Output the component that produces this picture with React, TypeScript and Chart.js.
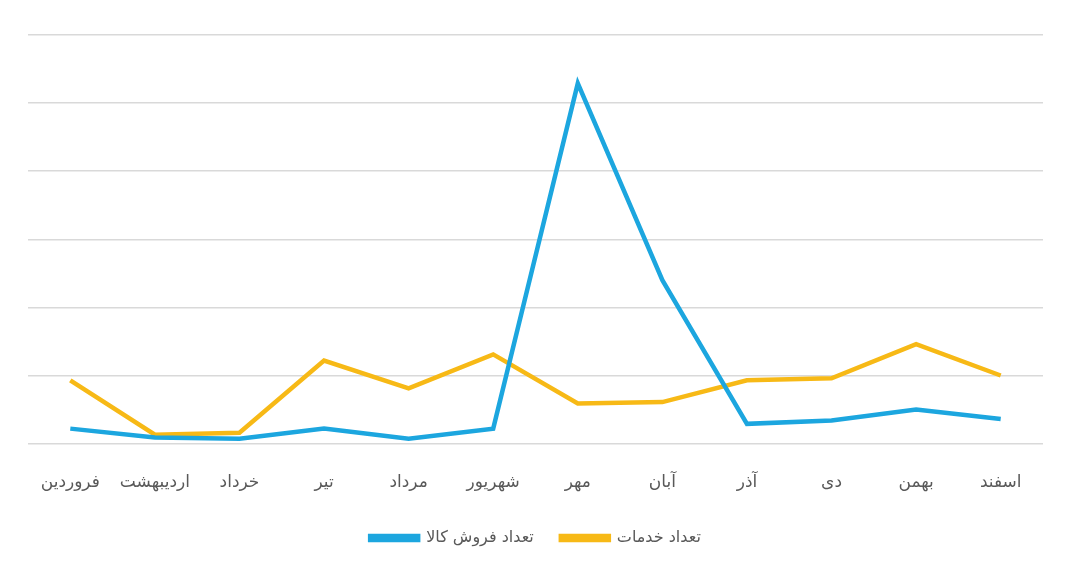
import React, { useEffect, useRef } from 'react';
import Chart from 'chart.js/auto';

const months = ['فروردین', 'اردیبهشت', 'خرداد', 'تیر', 'مرداد', 'شهریور', 'مهر', 'آبان', 'آذر', 'دی', 'بهمن', 'اسفند'];
const goodsSales = [2.2, 0.9, 0.7, 2.2, 0.7, 2.2, 52.9, 24, 2.9, 3.4, 5.0, 3.6];
const services = [9.3, 1.3, 1.6, 12.2, 8.1, 13.1, 5.9, 6.1, 9.3, 9.6, 14.6, 10.0];
const goodsLabel = 'تعداد فروش کالا';
const servicesLabel = 'تعداد خدمات';

const BLUE = '#1ca6df';
const YELLOW = '#f7b916';
const FONT = "'DejaVu Sans', 'Noto Sans', sans-serif";

const App: React.FC = () => {
  const canvasRef = useRef<HTMLCanvasElement>(null);

  useEffect(() => {
    if (!canvasRef.current) return;
    const chart = new Chart(canvasRef.current, {
      type: 'line',
      data: {
        labels: months,
        datasets: [
          {
            label: goodsLabel,
            data: goodsSales,
            borderColor: BLUE,
            backgroundColor: BLUE,
            borderWidth: 4.5,
            pointRadius: 0,
            tension: 0,
          },
          {
            label: servicesLabel,
            data: services,
            borderColor: YELLOW,
            backgroundColor: YELLOW,
            borderWidth: 4.5,
            pointRadius: 0,
            tension: 0,
          },
        ],
      },
      options: {
        animation: false,
        responsive: false,
        layout: { padding: { left: 28, right: 37, top: 35, bottom: 16 } },
        scales: {
          x: {
            offset: true,
            grid: { display: false, drawTicks: false },
            border: { display: false },
            ticks: { padding: 29, color: '#595959', font: { family: FONT, size: 17 } },
            // legend spacing grows the legend box; shrink the axis to keep the plot bottom in place
            afterFit: (scale: any) => {
              scale.height -= 19;
            },
          },
          y: {
            min: 0,
            max: 60,
            grid: { color: '#d9d9d9', lineWidth: 1.5, drawTicks: false },
            border: { display: false },
            ticks: { display: false, stepSize: 10 },
          },
        },
        plugins: {
          legend: {
            position: 'bottom',
            labels: {
              boxWidth: 48,
              boxHeight: 4,
              color: '#595959',
              padding: 27,
              font: { family: FONT, size: 16 },
            },
          },
          tooltip: { enabled: false },
        },
      },
    });
    return () => chart.destroy();
  }, []);

  return (
    <div style={{ position: 'absolute', left: 0, top: 0, width: 1080, height: 572, background: '#fff' }}>
      <canvas ref={canvasRef} width={1080} height={572} />
    </div>
  );
};

export default App;
